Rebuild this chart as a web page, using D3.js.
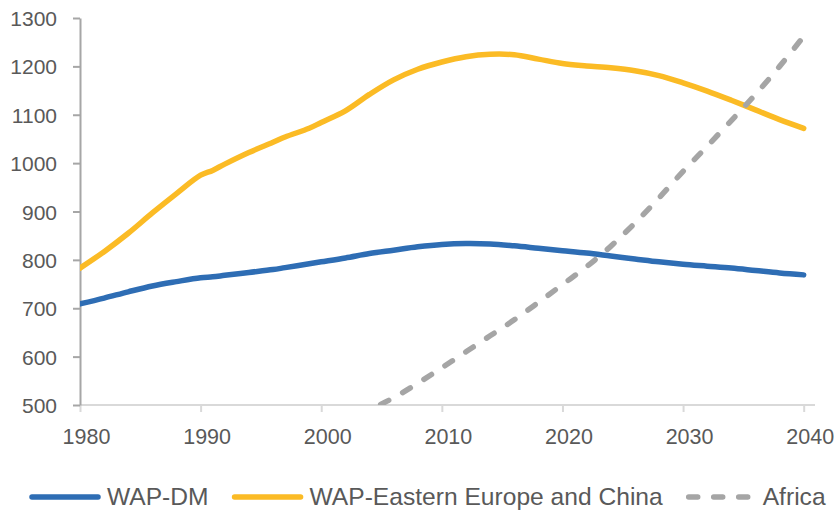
<!DOCTYPE html>
<html><head><meta charset="utf-8">
<script src="https://cdn.jsdelivr.net/npm/d3@7"></script>
<style>
html,body{margin:0;padding:0;background:#fff;}
svg{display:block;}
text{font-family:"Liberation Sans",Arial,sans-serif;fill:#595959;}
</style></head>
<body>
<svg id="chart" width="836" height="511"></svg>
<script>
const years = [1980,1982,1984,1986,1988,1990,1991,1992,1994,1996,1997,1999,2000,2002,2004,2006,2008,2010,2012,2014,2016,2018,2020,2022,2024,2026,2028,2030,2032,2034,2036,2038,2040];
const wapDM = [709,721,734,746,755,763,765,768,774,780,784,792,796,804,813,820,827,832,834,833,829,824,819,814,808,802,796,791,787,783,778,773,769];
const wapEEChina = [783,817,855,897,937,975,985,998,1022,1043,1054,1072,1084,1108,1142,1172,1194,1209,1220,1225,1224,1215,1206,1201,1197,1191,1181,1166,1149,1130,1110,1090,1072];
const africaYears = [1980,1990,2000,2002,2004,2006,2008,2010,2012,2014,2016,2018,2020,2022,2024,2026,2028,2030,2032,2034,2036,2038,2040];
const africa = [250,330,440,465,490,515,545,577,610,643,676,712,749,786,828,876,928,983,1035,1088,1142,1200,1262];
const xTicks = [1980,1990,2000,2010,2020,2030,2040];
const yTicks = [500,600,700,800,900,1000,1100,1200,1300];
const seriesNames = ["WAP-DM","WAP-Eastern Europe and China","Africa"];
const seriesColors = ["#2E6DB4","#FBBB25","#A5A5A5"];

const svg = d3.select("#chart");
const x = d3.scaleLinear().domain([1980,2040]).range([80,803.7]);
const y = d3.scaleLinear().domain([500,1300]).range([405,18]);

svg.append("defs").append("clipPath").attr("id","plotclip")
  .append("rect").attr("x",80).attr("y",0).attr("width",756).attr("height",405);

// x axis
const xAxis = svg.append("g").attr("transform","translate(0,405)")
  .call(d3.axisBottom(x).tickValues(xTicks).tickFormat(d3.format("d")).tickSize(7).tickSizeOuter(0));
xAxis.select(".domain").remove();
xAxis.append("line").attr("x1",80).attr("x2",815).attr("y1",0).attr("y2",0)
  .attr("stroke","#D9D9D9").attr("stroke-width",2);
xAxis.selectAll(".tick line").attr("stroke","#D9D9D9").attr("stroke-width",2);
xAxis.selectAll(".tick text").attr("y",39).attr("dy",null).attr("dx",6)
  .style("font-size","21.5px").attr("fill","#595959");

// y axis
const yAxis = svg.append("g").attr("transform","translate(80,0)")
  .call(d3.axisLeft(y).tickValues(yTicks).tickFormat(d3.format("d")).tickSize(7).tickSizeOuter(0));
yAxis.select(".domain").attr("stroke","#A6A6A6").attr("stroke-width",2);
yAxis.selectAll(".tick line").attr("stroke","#A6A6A6").attr("stroke-width",2);
yAxis.selectAll(".tick text").attr("x",-23).attr("dy","0.36em")
  .style("font-size","21px").attr("fill","#595959");

const line = d3.line().x(d=>x(d[0])).y(d=>y(d[1])).curve(d3.curveCatmullRom.alpha(0.5));
const plot = svg.append("g").attr("clip-path","url(#plotclip)");

plot.append("path").datum(years.map((yr,i)=>[yr,wapDM[i]]))
  .attr("d",line).attr("fill","none").attr("stroke",seriesColors[0])
  .attr("stroke-width",5.5).attr("stroke-linecap","round").attr("stroke-linejoin","round");
plot.append("path").datum(years.map((yr,i)=>[yr,wapEEChina[i]]))
  .attr("d",line).attr("fill","none").attr("stroke",seriesColors[1])
  .attr("stroke-width",5.5).attr("stroke-linecap","round").attr("stroke-linejoin","round");
plot.append("path").datum(africaYears.map((yr,i)=>[yr,africa[i]]))
  .attr("d",line).attr("fill","none").attr("stroke",seriesColors[2])
  .attr("stroke-width",5.5).attr("stroke-linecap","round").attr("stroke-dasharray","9,16");

// legend
const leg = svg.append("g");
let cx = 29;
seriesNames.forEach((name,i)=>{
  const l = leg.append("line").attr("x1",cx+3).attr("x2",cx+69).attr("y1",497).attr("y2",497)
    .attr("stroke",seriesColors[i]).attr("stroke-width",5.5).attr("stroke-linecap","round");
  if(i===2){ l.attr("x1",cx+3).attr("x2",cx+62).attr("stroke-dasharray","9,16"); }
  const tx = i===2 ? cx+77 : cx+78;
  const t = leg.append("text").attr("x",tx).attr("y",505).style("font-size","24.6px").text(name);
  const w = t.node().getComputedTextLength();
  cx = tx + w + 23;
});
</script>
</body></html>
